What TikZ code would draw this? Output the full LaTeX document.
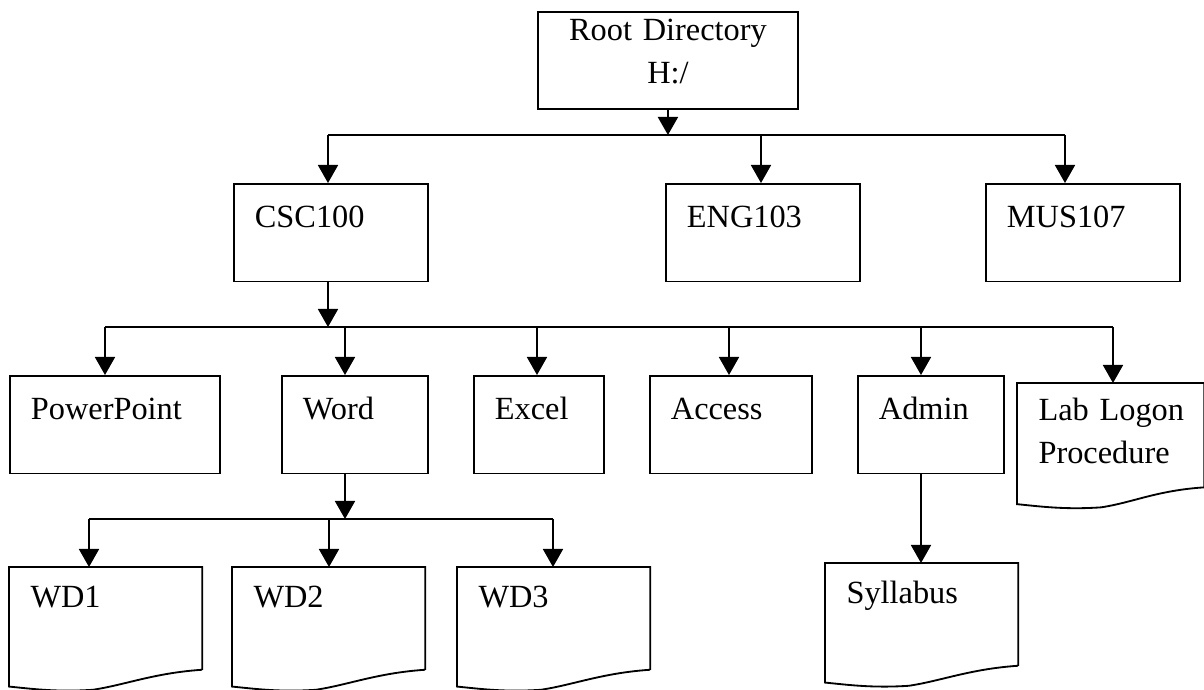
\documentclass[tikz,border=0pt]{standalone}
\usepackage{fontspec}
\setmainfont{Liberation Serif}
\usetikzlibrary{arrows.meta}

% folder sheet with a torn (wavy) bottom edge, drawn round a named node
\newcommand{\docshape}[1]{%
  \draw[boxline] ([yshift=0.21cm]#1.south east) -- (#1.north east) -- (#1.north west) -- (#1.south west)
    .. controls ([xshift=0.3cm,yshift=-0.03cm]#1.south west) and ([xshift=0.6cm,yshift=-0.07cm]#1.south west)
    .. ([xshift=1.05cm,yshift=-0.04cm]#1.south west)
    .. controls ([xshift=1.45cm,yshift=0.02cm]#1.south west) and ([xshift=-0.6cm,yshift=0.17cm]#1.south east)
    .. ([yshift=0.21cm]#1.south east);}

\begin{document}
\begin{tikzpicture}[
  x=0.0125cm, y=-0.0125cm,
  font=\fontsize{11.5pt}{15.3pt}\selectfont,
  boxline/.style={line width=0.65pt},
  dirbox/.style={draw,boxline,anchor=north west,align=left,inner xsep=0.2625cm,inner ysep=0pt,
                 text height=0.54cm,text depth=0.68cm},
  filebox/.style={anchor=north west,align=left,inner xsep=0.2625cm,inner ysep=0pt,
                  text width=1.875cm,text height=0.5cm,text depth=0.98cm},
  arr/.style={-{Triangle[length=0.225cm,width=0.25cm]},boxline},
]
\useasboundingbox (0,0) rectangle (1204,690);

% ---- Root ---------------------------------------------------------------------
\node[draw,boxline,anchor=north west,align=center,inner sep=0pt,text width=3.25cm,
      text height=0.3625cm,text depth=0.85cm] (root) at (537,11) {Root Directory\\H:/};

% ---- Course folders -----------------------------------------------------------
\node[dirbox,text width=1.9cm] (csc) at (233,183) {CSC100};
\node[dirbox,text width=1.9cm] (eng) at (665,183) {ENG103};
\node[dirbox,text width=1.9cm] (mus) at (985,183) {MUS107};

% ---- CSC100 subfolders --------------------------------------------------------
\node[dirbox,text width=2.1cm] (ppt)    at (9,375)   {PowerPoint};
\node[dirbox,text width=1.3cm] (word)   at (281,375) {Word};
\node[dirbox,text width=1.1cm] (excel)  at (473,375) {Excel};
\node[dirbox,text width=1.5cm] (access) at (649,375) {Access};
\node[dirbox,text width=1.3cm] (admin)  at (857,375) {Admin};
\node[filebox,text width=1.8cm,text height=0.46cm,text depth=1.04cm] (lab) at (1017,383)
     {\mbox{Lab Logon}\\Procedure};

% ---- Files --------------------------------------------------------------------
\node[filebox] (wd1) at (9,567)   {WD1};
\node[filebox] (wd2) at (232,567) {WD2};
\node[filebox] (wd3) at (457,567) {WD3};
\node[filebox] (syl) at (825,563) {Syllabus};
\foreach \n in {lab,wd1,wd2,wd3,syl}{
  \docshape{\n}
}

% ---- Root to courses ----------------------------------------------------------
\coordinate (dcsc) at (328,135);
\coordinate (deng) at (761,135);
\coordinate (dmus) at (1065,135);
\draw[arr] (root.south) -- (root.south |- dcsc);
\draw[boxline] (dcsc) -- (dmus);
\foreach \n in {csc,eng,mus}{
  \draw[arr] (d\n) -- (d\n |- \n.north);
}

% ---- CSC100 to subfolders -----------------------------------------------------
\coordinate (dppt)    at (105,327);
\coordinate (dword)   at (345,327);
\coordinate (dexcel)  at (537,327);
\coordinate (daccess) at (729,327);
\coordinate (dadmin)  at (921,327);
\coordinate (dlab)    at (1113,327);
\draw[arr] (dcsc |- csc.south) -- (dcsc |- dppt);
\draw[boxline] (dppt) -- (dlab);
\foreach \n in {ppt,word,excel,access,admin,lab}{
  \draw[arr] (d\n) -- (d\n |- \n.north);
}

% ---- Word to files ------------------------------------------------------------
\coordinate (dwd1) at (89,519);
\coordinate (dwd2) at (329,519);
\coordinate (dwd3) at (553,519);
\draw[arr] (dword |- word.south) -- (dword |- dwd1);
\draw[boxline] (dwd1) -- (dwd3);
\foreach \n in {wd1,wd2,wd3}{
  \draw[arr] (d\n) -- (d\n |- \n.north);
}

% ---- Admin to syllabus --------------------------------------------------------
\draw[arr] (dadmin |- admin.south) -- (dadmin |- syl.north);

\end{tikzpicture}
\end{document}
